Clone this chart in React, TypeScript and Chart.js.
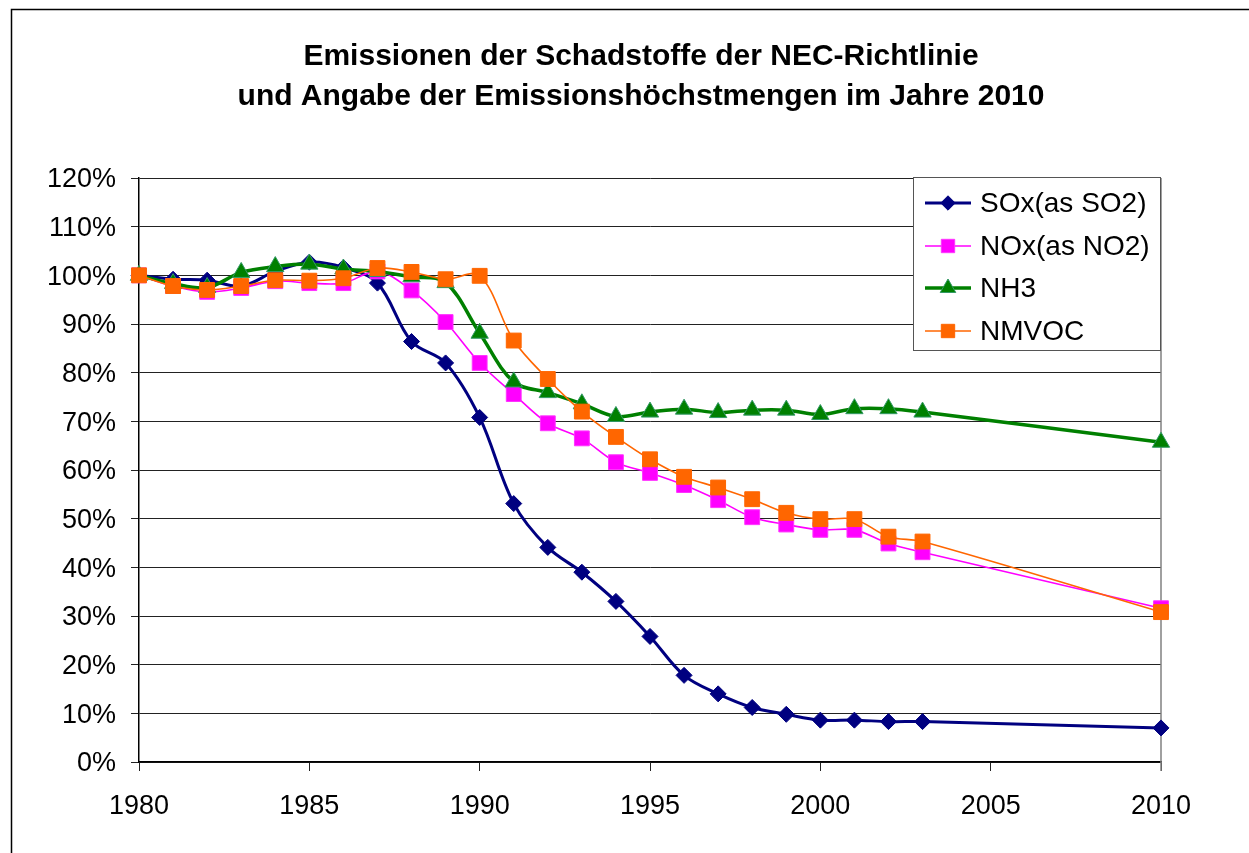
import React, { useEffect, useRef } from 'react';
import { Chart, registerables } from 'chart.js';
import { drawPoint } from 'chart.js/helpers';

Chart.register(...registerables);

const years = [1980, 1981, 1982, 1983, 1984, 1985, 1986, 1987, 1988, 1989, 1990, 1991, 1992, 1993, 1994, 1995, 1996, 1997, 1998, 1999, 2000, 2001, 2002, 2003, 2010];
const soxValues = [100, 99.2, 99.0, 97.8, 100.8, 102.7, 101.6, 98.4, 86.4, 82.0, 70.8, 53.1, 44.1, 39.0, 33.0, 25.8, 17.8, 14.0, 11.2, 9.8, 8.6, 8.6, 8.3, 8.3, 7.0];
const noxValues = [100, 97.8, 96.6, 97.4, 98.8, 98.4, 98.4, 100.8, 96.9, 90.4, 82.0, 75.6, 69.6, 66.5, 61.6, 59.4, 56.9, 53.8, 50.3, 48.8, 47.7, 47.7, 44.9, 43.1, 31.6];
const nh3Values = [100, 98.3, 97.5, 100.6, 101.8, 102.3, 101.3, 100.8, 99.7, 98.5, 88.1, 78.1, 75.9, 73.6, 71.0, 71.9, 72.5, 71.8, 72.3, 72.3, 71.4, 72.6, 72.6, 71.9, 65.7];
const nmvocValues = [100, 97.8, 97.0, 97.8, 99.0, 98.9, 99.4, 101.5, 100.7, 99.2, 99.9, 86.6, 78.7, 72.0, 66.8, 62.2, 58.6, 56.4, 54.0, 51.2, 49.9, 49.9, 46.3, 45.3, 30.8];

const seriesLabels = ['SOx(as SO2)', 'NOx(as NO2)', 'NH3', 'NMVOC'];
const titleLines = ['Emissionen der Schadstoffe der NEC-Richtlinie', 'und Angabe der Emissionshöchstmengen im Jahre 2010'];

const FONT = '"Liberation Sans", Arial, sans-serif';

export default function App() {
  const ref = useRef<HTMLCanvasElement>(null);

  useEffect(() => {
    const toPts = (vals: number[]) => years.map((x, i) => ({ x, y: vals[i] }));

    const datasets: any[] = [
      {
        label: seriesLabels[0], data: toPts(soxValues),
        borderColor: '#000080', backgroundColor: '#000080', borderWidth: 3,
        pointStyle: 'rectRot', pointRadius: 8, pointBackgroundColor: '#000080', pointBorderColor: '#000080', pointBorderWidth: 1,
        tension: 0.35, order: 3, clip: false,
      },
      {
        label: seriesLabels[1], data: toPts(noxValues),
        borderColor: '#FF00FF', backgroundColor: '#FF00FF', borderWidth: 1.6,
        pointStyle: 'rect', pointRadius: 10.5, pointBackgroundColor: '#FF00FF', pointBorderColor: '#FF33FF', pointBorderWidth: 1,
        tension: 0.35, order: 2, clip: false,
      },
      {
        label: seriesLabels[2], data: toPts(nh3Values),
        borderColor: '#008000', backgroundColor: '#008000', borderWidth: 3.5,
        pointStyle: 'triangle', pointRadius: 10, pointBackgroundColor: '#008000', pointBorderColor: '#339966', pointBorderWidth: 1,
        tension: 0.35, order: 1, clip: false,
      },
      {
        label: seriesLabels[3], data: toPts(nmvocValues),
        borderColor: '#FF6600', backgroundColor: '#FF6600', borderWidth: 1.6,
        pointStyle: 'rect', pointRadius: 10.5, pointBackgroundColor: '#FF6600', pointBorderColor: '#FF6600', pointBorderWidth: 1,
        tension: 0.35, order: 0, clip: false,
      },
    ];

    const deco = {
      id: 'deco',
      beforeDraw(chart: any) {
        const ctx = chart.ctx;
        ctx.save();
        ctx.fillStyle = '#ffffff';
        ctx.fillRect(0, 0, chart.width, chart.height);
        // outer frame
        ctx.strokeStyle = '#000000';
        ctx.lineWidth = 1.5;
        ctx.beginPath();
        ctx.moveTo(11.5, chart.height + 5);
        ctx.lineTo(11.5, 9.5);
        ctx.lineTo(chart.width + 5, 9.5);
        ctx.stroke();
        ctx.restore();
      },
      beforeDatasetsDraw(chart: any) {
        const ctx = chart.ctx;
        const a = chart.chartArea;
        ctx.save();
        ctx.strokeStyle = '#808080';
        ctx.lineWidth = 1.5;
        ctx.beginPath();
        ctx.moveTo(a.right, a.top);
        ctx.lineTo(a.right, a.bottom + 9);
        ctx.stroke();
        ctx.restore();
      },
      afterDraw(chart: any) {
        const ctx = chart.ctx;
        ctx.save();
        // title
        ctx.fillStyle = '#000';
        ctx.font = `bold 30px ${FONT}`;
        ctx.textAlign = 'center';
        ctx.textBaseline = 'alphabetic';
        ctx.fillText(titleLines[0], 641, 65);
        ctx.fillText(titleLines[1], 641, 105);

        // legend
        const bx = 913.5, by = 177.5, bw = 247, bh = 173;
        ctx.fillStyle = '#fff';
        ctx.fillRect(bx, by, bw, bh);
        ctx.strokeStyle = '#555';
        ctx.lineWidth = 1;
        ctx.strokeRect(bx, by, bw, bh);
        const rows = [203, 246, 288, 331];
        chart.data.datasets.forEach((ds: any, i: number) => {
          const y = rows[i];
          ctx.strokeStyle = ds.borderColor;
          ctx.lineWidth = ds.borderWidth;
          ctx.beginPath();
          ctx.moveTo(925, y);
          ctx.lineTo(971, y);
          ctx.stroke();
          ctx.fillStyle = ds.pointBackgroundColor;
          ctx.strokeStyle = ds.pointBorderColor;
          ctx.lineWidth = ds.pointBorderWidth;
          drawPoint(ctx, { pointStyle: ds.pointStyle, radius: ds.pointRadius * 0.9, rotation: 0, borderWidth: ds.pointBorderWidth }, 948, y);
          ctx.fillStyle = '#000';
          ctx.font = `28px ${FONT}`;
          ctx.textAlign = 'left';
          ctx.textBaseline = 'middle';
          ctx.fillText(ds.label, 980, y + 1);
        });
        ctx.restore();
      },
    };

    const chart = new Chart(ref.current as HTMLCanvasElement, {
      type: 'line',
      data: { datasets },
      plugins: [deco],
      options: {
        responsive: false,
        animation: false,
        devicePixelRatio: 1,
        layout: { padding: { left: 0, right: 88, top: 178, bottom: 0 } },
        plugins: { legend: { display: false }, title: { display: false }, tooltip: { enabled: false } },
        scales: {
          x: {
            type: 'linear', min: 1980, max: 2010,
            ticks: { stepSize: 5, autoSkip: false, maxRotation: 0, padding: 19, color: '#000', font: { family: FONT, size: 27 }, callback: (v: any) => String(v) },
            grid: { drawOnChartArea: false, drawTicks: true, tickLength: 9, color: '#222', lineWidth: 1 },
            border: { display: true, color: '#000', width: 1.5 },
            afterFit: (s: any) => { s.height = 91; },
          },
          y: {
            min: 0, max: 120,
            ticks: { stepSize: 10, padding: 15, labelOffset: 2, color: '#000', font: { family: FONT, size: 27 }, callback: (v: any) => v + '%' },
            grid: { color: '#222', lineWidth: 1, tickLength: 8, drawTicks: true },
            border: { display: true, color: '#000', width: 1.5 },
            afterFit: (s: any) => { s.width = 139; },
          },
        },
      } as any,
    });
    return () => chart.destroy();
  }, []);

  return (
    <div style={{ position: 'absolute', left: 0, top: 0, width: 1249, height: 853, background: '#fff', overflow: 'hidden' }}>
      <canvas ref={ref} width={1249} height={853} style={{ display: 'block', width: 1249, height: 853 }} />
    </div>
  );
}
